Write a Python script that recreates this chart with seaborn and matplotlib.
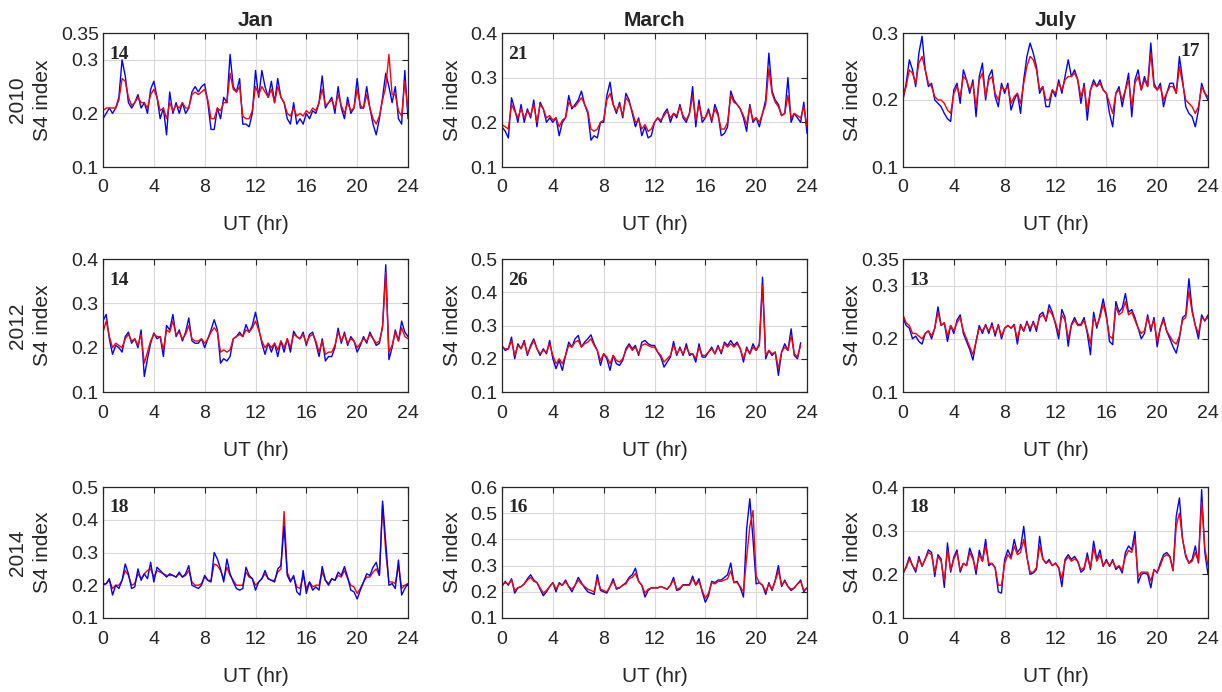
import numpy as np
import matplotlib
matplotlib.use("Agg")
import matplotlib.pyplot as plt
import seaborn as sns

# S4 index, one sample every 15 min from 0 UT (blue / red curves)
STEP = 0.25

months = ["Jan", "March", "July"]
years = ["2010", "2012", "2014"]
day_counts = [["14", "21", "17"], ["14", "26", "13"], ["18", "16", "18"]]
hour_ticks = [0, 4, 8, 12, 16, 20, 24]
s4_ticks = [[[0.1, 0.2, 0.3, 0.35], [0.1, 0.2, 0.3, 0.4], [0.1, 0.2, 0.3]],
            [[0.1, 0.2, 0.3, 0.4], [0.1, 0.2, 0.3, 0.4, 0.5], [0.1, 0.2, 0.3, 0.35]],
            [[0.1, 0.2, 0.3, 0.4, 0.5], [0.1, 0.2, 0.3, 0.4, 0.5, 0.6], [0.1, 0.2, 0.3, 0.4]]]

jan2010_blue = [0.19, 0.20, 0.21, 0.20, 0.21, 0.23, 0.30, 0.27,
                0.22, 0.21, 0.22, 0.235, 0.21, 0.22, 0.20, 0.245,
                0.26, 0.23, 0.19, 0.21, 0.16, 0.24, 0.20, 0.22,
                0.20, 0.22, 0.20, 0.21, 0.24, 0.25, 0.24, 0.25,
                0.255, 0.22, 0.17, 0.17, 0.21, 0.19, 0.23, 0.22,
                0.31, 0.25, 0.24, 0.265, 0.18, 0.18, 0.175, 0.20,
                0.28, 0.23, 0.28, 0.25, 0.23, 0.26, 0.22, 0.265,
                0.23, 0.22, 0.19, 0.18, 0.22, 0.18, 0.19, 0.18,
                0.20, 0.19, 0.205, 0.20, 0.22, 0.27, 0.21, 0.22,
                0.23, 0.20, 0.25, 0.21, 0.19, 0.23, 0.20, 0.21,
                0.265, 0.21, 0.21, 0.25, 0.21, 0.18, 0.16, 0.19,
                0.23, 0.275, 0.25, 0.22, 0.25, 0.19, 0.18, 0.28,
                0.19]
jan2010_red = [0.205, 0.21, 0.21, 0.21, 0.21, 0.225, 0.265, 0.26,
               0.23, 0.215, 0.22, 0.23, 0.22, 0.22, 0.21, 0.235,
               0.245, 0.23, 0.205, 0.21, 0.19, 0.22, 0.205, 0.215,
               0.21, 0.22, 0.21, 0.21, 0.235, 0.24, 0.235, 0.24,
               0.245, 0.225, 0.19, 0.19, 0.21, 0.205, 0.22, 0.22,
               0.275, 0.245, 0.24, 0.25, 0.195, 0.19, 0.19, 0.205,
               0.25, 0.235, 0.25, 0.24, 0.23, 0.245, 0.22, 0.25,
               0.23, 0.22, 0.20, 0.195, 0.21, 0.195, 0.20, 0.195,
               0.205, 0.20, 0.21, 0.205, 0.22, 0.245, 0.215, 0.22,
               0.225, 0.21, 0.235, 0.215, 0.20, 0.22, 0.205, 0.21,
               0.245, 0.215, 0.21, 0.235, 0.21, 0.19, 0.18, 0.195,
               0.225, 0.25, 0.31, 0.235, 0.235, 0.205, 0.195, 0.26,
               0.205]

mar2010_blue = [0.19, 0.18, 0.165, 0.255, 0.23, 0.20, 0.24, 0.20,
                0.23, 0.21, 0.25, 0.19, 0.245, 0.23, 0.20, 0.21,
                0.20, 0.21, 0.17, 0.20, 0.21, 0.26, 0.23, 0.24,
                0.25, 0.27, 0.24, 0.22, 0.16, 0.17, 0.165, 0.20,
                0.20, 0.26, 0.29, 0.24, 0.22, 0.245, 0.21, 0.265,
                0.25, 0.22, 0.19, 0.21, 0.17, 0.19, 0.165, 0.17,
                0.20, 0.21, 0.20, 0.22, 0.23, 0.20, 0.22, 0.21,
                0.24, 0.21, 0.20, 0.22, 0.28, 0.19, 0.25, 0.20,
                0.21, 0.23, 0.20, 0.24, 0.22, 0.17, 0.175, 0.19,
                0.27, 0.25, 0.24, 0.23, 0.21, 0.18, 0.24, 0.20,
                0.21, 0.19, 0.22, 0.25, 0.355, 0.27, 0.25, 0.24,
                0.215, 0.22, 0.30, 0.20, 0.22, 0.21, 0.20, 0.245,
                0.175]
mar2010_red = [0.195, 0.19, 0.185, 0.24, 0.225, 0.21, 0.23, 0.21,
               0.225, 0.215, 0.24, 0.20, 0.24, 0.23, 0.21, 0.215,
               0.205, 0.21, 0.19, 0.205, 0.21, 0.245, 0.235, 0.235,
               0.245, 0.255, 0.24, 0.225, 0.185, 0.18, 0.185, 0.20,
               0.205, 0.25, 0.265, 0.24, 0.225, 0.24, 0.215, 0.255,
               0.245, 0.225, 0.20, 0.205, 0.185, 0.195, 0.18, 0.185,
               0.20, 0.21, 0.205, 0.215, 0.225, 0.21, 0.22, 0.215,
               0.235, 0.215, 0.205, 0.22, 0.26, 0.205, 0.24, 0.21,
               0.21, 0.225, 0.205, 0.23, 0.215, 0.185, 0.185, 0.20,
               0.26, 0.245, 0.24, 0.23, 0.215, 0.195, 0.235, 0.205,
               0.21, 0.20, 0.22, 0.24, 0.32, 0.265, 0.245, 0.235,
               0.215, 0.22, 0.26, 0.21, 0.22, 0.215, 0.21, 0.235,
               0.19]

jul2010_blue = [0.20, 0.225, 0.26, 0.245, 0.22, 0.27, 0.295, 0.245,
                0.22, 0.225, 0.20, 0.195, 0.19, 0.18, 0.172, 0.168,
                0.215, 0.225, 0.195, 0.245, 0.23, 0.21, 0.23, 0.175,
                0.235, 0.255, 0.20, 0.235, 0.245, 0.205, 0.19, 0.225,
                0.21, 0.225, 0.185, 0.20, 0.21, 0.18, 0.23, 0.265,
                0.285, 0.27, 0.25, 0.21, 0.22, 0.19, 0.19, 0.215,
                0.205, 0.23, 0.21, 0.235, 0.26, 0.235, 0.245, 0.23,
                0.195, 0.225, 0.17, 0.215, 0.23, 0.22, 0.23, 0.215,
                0.21, 0.18, 0.16, 0.21, 0.22, 0.19, 0.215, 0.24,
                0.175, 0.23, 0.245, 0.215, 0.235, 0.22, 0.285, 0.225,
                0.215, 0.225, 0.19, 0.21, 0.225, 0.225, 0.21, 0.265,
                0.23, 0.19, 0.18, 0.175, 0.16, 0.185, 0.225, 0.21,
                0.20]
jul2010_red = [0.205, 0.22, 0.245, 0.24, 0.225, 0.255, 0.265, 0.245,
               0.225, 0.22, 0.205, 0.20, 0.20, 0.195, 0.185, 0.18,
               0.21, 0.22, 0.205, 0.235, 0.23, 0.215, 0.225, 0.19,
               0.23, 0.24, 0.205, 0.23, 0.235, 0.21, 0.20, 0.22,
               0.215, 0.22, 0.195, 0.205, 0.21, 0.195, 0.225, 0.25,
               0.265, 0.26, 0.245, 0.215, 0.22, 0.20, 0.20, 0.215,
               0.21, 0.225, 0.215, 0.23, 0.235, 0.235, 0.24, 0.23,
               0.205, 0.22, 0.185, 0.215, 0.225, 0.22, 0.225, 0.215,
               0.21, 0.195, 0.18, 0.21, 0.215, 0.20, 0.215, 0.23,
               0.19, 0.225, 0.235, 0.215, 0.23, 0.22, 0.27, 0.22,
               0.215, 0.22, 0.20, 0.21, 0.22, 0.22, 0.21, 0.25,
               0.225, 0.20, 0.195, 0.19, 0.18, 0.19, 0.22, 0.21,
               0.205]

jan2012_blue = [0.26, 0.275, 0.22, 0.185, 0.205, 0.20, 0.19, 0.225,
                0.235, 0.21, 0.22, 0.20, 0.24, 0.135, 0.175, 0.21,
                0.233, 0.22, 0.225, 0.18, 0.25, 0.24, 0.275, 0.225,
                0.24, 0.215, 0.235, 0.267, 0.215, 0.21, 0.21, 0.22,
                0.20, 0.22, 0.24, 0.263, 0.24, 0.165, 0.175, 0.17,
                0.18, 0.22, 0.225, 0.235, 0.225, 0.252, 0.235, 0.25,
                0.28, 0.245, 0.21, 0.185, 0.21, 0.19, 0.21, 0.18,
                0.215, 0.19, 0.22, 0.19, 0.237, 0.225, 0.22, 0.235,
                0.205, 0.23, 0.235, 0.21, 0.18, 0.22, 0.17, 0.18,
                0.18, 0.20, 0.244, 0.21, 0.235, 0.205, 0.225, 0.215,
                0.19, 0.205, 0.225, 0.21, 0.235, 0.22, 0.205, 0.21,
                0.25, 0.387, 0.173, 0.20, 0.24, 0.215, 0.26, 0.235,
                0.225]
jan2012_red = [0.235, 0.26, 0.225, 0.20, 0.21, 0.205, 0.20, 0.22,
               0.23, 0.215, 0.22, 0.205, 0.23, 0.165, 0.19, 0.215,
               0.23, 0.225, 0.225, 0.195, 0.24, 0.235, 0.26, 0.23,
               0.235, 0.22, 0.23, 0.25, 0.22, 0.215, 0.215, 0.22,
               0.21, 0.22, 0.235, 0.245, 0.235, 0.19, 0.195, 0.19,
               0.195, 0.22, 0.225, 0.23, 0.225, 0.24, 0.235, 0.245,
               0.26, 0.24, 0.215, 0.20, 0.21, 0.20, 0.21, 0.195,
               0.215, 0.20, 0.22, 0.20, 0.23, 0.225, 0.22, 0.23,
               0.21, 0.225, 0.23, 0.215, 0.19, 0.215, 0.185, 0.19,
               0.19, 0.205, 0.235, 0.215, 0.23, 0.21, 0.22, 0.215,
               0.20, 0.21, 0.22, 0.215, 0.23, 0.22, 0.21, 0.215,
               0.245, 0.37, 0.19, 0.205, 0.235, 0.215, 0.245, 0.225,
               0.22]

mar2012_blue = [0.24, 0.225, 0.23, 0.265, 0.20, 0.245, 0.23, 0.255,
                0.21, 0.24, 0.26, 0.23, 0.21, 0.23, 0.215, 0.255,
                0.20, 0.17, 0.195, 0.165, 0.21, 0.25, 0.235, 0.26,
                0.27, 0.235, 0.25, 0.26, 0.272, 0.245, 0.225, 0.18,
                0.215, 0.20, 0.165, 0.21, 0.185, 0.18, 0.195, 0.23,
                0.245, 0.23, 0.24, 0.21, 0.25, 0.255, 0.245, 0.24,
                0.24, 0.22, 0.205, 0.175, 0.19, 0.205, 0.252, 0.21,
                0.235, 0.21, 0.245, 0.21, 0.215, 0.19, 0.245, 0.205,
                0.205, 0.22, 0.235, 0.215, 0.24, 0.215, 0.25, 0.24,
                0.255, 0.24, 0.25, 0.23, 0.19, 0.235, 0.215, 0.245,
                0.225, 0.245, 0.445, 0.20, 0.225, 0.21, 0.22, 0.15,
                0.22, 0.245, 0.225, 0.29, 0.21, 0.20, 0.248]
mar2012_red = [0.235, 0.23, 0.23, 0.255, 0.21, 0.24, 0.23, 0.25,
               0.215, 0.235, 0.255, 0.23, 0.215, 0.225, 0.22, 0.245,
               0.21, 0.185, 0.20, 0.185, 0.21, 0.24, 0.235, 0.25,
               0.255, 0.235, 0.245, 0.25, 0.26, 0.24, 0.225, 0.195,
               0.215, 0.205, 0.185, 0.21, 0.195, 0.19, 0.20, 0.225,
               0.24, 0.225, 0.235, 0.215, 0.24, 0.245, 0.24, 0.235,
               0.235, 0.22, 0.21, 0.19, 0.20, 0.21, 0.24, 0.215,
               0.23, 0.215, 0.235, 0.215, 0.215, 0.20, 0.235, 0.21,
               0.21, 0.22, 0.23, 0.215, 0.235, 0.22, 0.245, 0.235,
               0.245, 0.235, 0.245, 0.23, 0.20, 0.23, 0.215, 0.235,
               0.225, 0.24, 0.42, 0.21, 0.225, 0.215, 0.22, 0.17,
               0.22, 0.235, 0.225, 0.27, 0.215, 0.205, 0.24]

jul2012_blue = [0.24, 0.225, 0.22, 0.20, 0.205, 0.195, 0.19, 0.21,
                0.215, 0.20, 0.22, 0.26, 0.225, 0.23, 0.195, 0.225,
                0.21, 0.235, 0.245, 0.21, 0.195, 0.18, 0.16, 0.195,
                0.225, 0.21, 0.227, 0.21, 0.23, 0.205, 0.227, 0.20,
                0.22, 0.225, 0.22, 0.227, 0.19, 0.227, 0.214, 0.233,
                0.214, 0.233, 0.214, 0.245, 0.25, 0.233, 0.264, 0.25,
                0.227, 0.20, 0.255, 0.24, 0.186, 0.227, 0.24, 0.227,
                0.227, 0.24, 0.21, 0.17, 0.25, 0.22, 0.245, 0.275,
                0.245, 0.195, 0.189, 0.27, 0.25, 0.258, 0.285, 0.25,
                0.255, 0.24, 0.22, 0.20, 0.21, 0.245, 0.214, 0.24,
                0.185, 0.22, 0.24, 0.214, 0.20, 0.185, 0.173, 0.20,
                0.24, 0.245, 0.313, 0.255, 0.225, 0.20, 0.245, 0.233,
                0.245]
jul2012_red = [0.245, 0.23, 0.225, 0.21, 0.21, 0.205, 0.20, 0.21,
               0.215, 0.205, 0.22, 0.25, 0.225, 0.23, 0.205, 0.225,
               0.215, 0.23, 0.24, 0.215, 0.20, 0.185, 0.17, 0.195,
               0.22, 0.215, 0.225, 0.215, 0.225, 0.21, 0.225, 0.205,
               0.22, 0.225, 0.22, 0.225, 0.20, 0.225, 0.215, 0.23,
               0.22, 0.23, 0.22, 0.24, 0.245, 0.235, 0.255, 0.245,
               0.23, 0.21, 0.245, 0.235, 0.20, 0.225, 0.235, 0.225,
               0.225, 0.235, 0.215, 0.19, 0.24, 0.225, 0.24, 0.265,
               0.24, 0.205, 0.20, 0.26, 0.245, 0.25, 0.27, 0.245,
               0.25, 0.235, 0.22, 0.21, 0.215, 0.24, 0.22, 0.235,
               0.195, 0.22, 0.235, 0.215, 0.205, 0.195, 0.19, 0.205,
               0.235, 0.24, 0.29, 0.25, 0.225, 0.21, 0.24, 0.235,
               0.24]

jan2014_blue = [0.20, 0.205, 0.22, 0.17, 0.20, 0.19, 0.215, 0.265,
                0.235, 0.19, 0.195, 0.25, 0.215, 0.235, 0.22, 0.27,
                0.21, 0.255, 0.245, 0.235, 0.225, 0.235, 0.23, 0.225,
                0.24, 0.225, 0.235, 0.26, 0.20, 0.195, 0.19, 0.20,
                0.23, 0.215, 0.21, 0.30, 0.28, 0.25, 0.21, 0.28,
                0.235, 0.21, 0.19, 0.185, 0.19, 0.255, 0.23, 0.22,
                0.185, 0.21, 0.22, 0.245, 0.22, 0.215, 0.21, 0.25,
                0.26, 0.38, 0.23, 0.21, 0.23, 0.18, 0.17, 0.245,
                0.175, 0.21, 0.185, 0.195, 0.185, 0.257, 0.215, 0.20,
                0.22, 0.215, 0.24, 0.23, 0.257, 0.225, 0.185, 0.18,
                0.158, 0.185, 0.21, 0.235, 0.23, 0.255, 0.27, 0.23,
                0.457, 0.33, 0.20, 0.205, 0.19, 0.277, 0.17, 0.19,
                0.205]
jan2014_red = [0.205, 0.205, 0.215, 0.19, 0.20, 0.20, 0.215, 0.245,
               0.23, 0.20, 0.205, 0.235, 0.22, 0.235, 0.245, 0.25,
               0.225, 0.245, 0.24, 0.235, 0.23, 0.23, 0.23, 0.225,
               0.235, 0.225, 0.23, 0.245, 0.21, 0.20, 0.20, 0.205,
               0.225, 0.215, 0.215, 0.265, 0.26, 0.245, 0.22, 0.255,
               0.23, 0.215, 0.20, 0.20, 0.20, 0.24, 0.225, 0.22,
               0.20, 0.21, 0.22, 0.235, 0.22, 0.215, 0.215, 0.24,
               0.25, 0.425, 0.24, 0.215, 0.225, 0.195, 0.19, 0.23,
               0.19, 0.21, 0.195, 0.20, 0.20, 0.24, 0.215, 0.205,
               0.22, 0.215, 0.23, 0.225, 0.245, 0.22, 0.20, 0.195,
               0.175, 0.19, 0.21, 0.225, 0.225, 0.24, 0.25, 0.23,
               0.445, 0.30, 0.21, 0.21, 0.205, 0.26, 0.19, 0.20,
               0.205]

mar2014_blue = [0.22, 0.24, 0.225, 0.25, 0.195, 0.215, 0.22, 0.23,
                0.25, 0.265, 0.245, 0.235, 0.21, 0.185, 0.20, 0.22,
                0.235, 0.20, 0.235, 0.225, 0.245, 0.22, 0.20, 0.225,
                0.255, 0.235, 0.215, 0.20, 0.195, 0.19, 0.265, 0.205,
                0.20, 0.195, 0.22, 0.25, 0.21, 0.215, 0.225, 0.235,
                0.255, 0.265, 0.29, 0.24, 0.225, 0.18, 0.205, 0.215,
                0.215, 0.215, 0.22, 0.215, 0.21, 0.225, 0.255, 0.205,
                0.21, 0.227, 0.227, 0.227, 0.26, 0.227, 0.25, 0.20,
                0.16, 0.185, 0.24, 0.235, 0.245, 0.245, 0.255, 0.265,
                0.31, 0.235, 0.24, 0.215, 0.18, 0.44, 0.555, 0.40,
                0.23, 0.235, 0.225, 0.19, 0.235, 0.205, 0.245, 0.30,
                0.22, 0.245, 0.22, 0.205, 0.215, 0.23, 0.245, 0.20,
                0.215]
mar2014_red = [0.225, 0.235, 0.23, 0.245, 0.205, 0.215, 0.22, 0.23,
               0.245, 0.255, 0.24, 0.235, 0.215, 0.195, 0.205, 0.22,
               0.235, 0.21, 0.23, 0.225, 0.24, 0.22, 0.21, 0.225,
               0.245, 0.23, 0.22, 0.21, 0.205, 0.20, 0.25, 0.21,
               0.205, 0.20, 0.22, 0.24, 0.215, 0.215, 0.225, 0.23,
               0.25, 0.255, 0.27, 0.24, 0.225, 0.195, 0.21, 0.215,
               0.215, 0.215, 0.22, 0.215, 0.21, 0.225, 0.245, 0.21,
               0.215, 0.225, 0.225, 0.225, 0.25, 0.225, 0.24, 0.205,
               0.175, 0.195, 0.235, 0.23, 0.24, 0.24, 0.245, 0.25,
               0.28, 0.235, 0.235, 0.22, 0.20, 0.33, 0.45, 0.51,
               0.26, 0.235, 0.225, 0.20, 0.23, 0.21, 0.24, 0.28,
               0.225, 0.24, 0.22, 0.21, 0.215, 0.23, 0.24, 0.205,
               0.215]

jul2014_blue = [0.20, 0.218, 0.24, 0.22, 0.205, 0.241, 0.218, 0.235,
                0.256, 0.25, 0.195, 0.245, 0.235, 0.17, 0.272, 0.205,
                0.24, 0.256, 0.205, 0.225, 0.22, 0.26, 0.24, 0.20,
                0.255, 0.23, 0.28, 0.22, 0.225, 0.215, 0.16, 0.157,
                0.234, 0.256, 0.24, 0.28, 0.25, 0.26, 0.31, 0.24,
                0.20, 0.203, 0.211, 0.287, 0.236, 0.226, 0.234, 0.22,
                0.226, 0.215, 0.172, 0.234, 0.245, 0.234, 0.241, 0.23,
                0.205, 0.211, 0.249, 0.211, 0.276, 0.234, 0.256, 0.218,
                0.234, 0.218, 0.234, 0.211, 0.218, 0.203, 0.25, 0.265,
                0.256, 0.298, 0.18, 0.20, 0.203, 0.20, 0.169, 0.211,
                0.203, 0.226, 0.245, 0.25, 0.241, 0.208, 0.333, 0.375,
                0.28, 0.24, 0.226, 0.234, 0.265, 0.226, 0.394, 0.25,
                0.20]
jul2014_red = [0.205, 0.215, 0.235, 0.22, 0.21, 0.235, 0.22, 0.235,
               0.25, 0.245, 0.205, 0.24, 0.23, 0.185, 0.255, 0.21,
               0.235, 0.25, 0.21, 0.225, 0.22, 0.25, 0.235, 0.21,
               0.245, 0.23, 0.265, 0.225, 0.225, 0.215, 0.175, 0.175,
               0.225, 0.245, 0.235, 0.265, 0.245, 0.25, 0.28, 0.24,
               0.205, 0.205, 0.215, 0.265, 0.235, 0.225, 0.23, 0.22,
               0.225, 0.215, 0.19, 0.23, 0.24, 0.23, 0.235, 0.23,
               0.21, 0.215, 0.24, 0.215, 0.26, 0.23, 0.245, 0.22,
               0.23, 0.22, 0.23, 0.215, 0.22, 0.21, 0.24, 0.255,
               0.25, 0.28, 0.195, 0.205, 0.205, 0.205, 0.185, 0.21,
               0.205, 0.22, 0.24, 0.245, 0.24, 0.21, 0.31, 0.34,
               0.28, 0.245, 0.225, 0.23, 0.25, 0.23, 0.365, 0.26,
               0.22]

series = [[(jan2010_blue, jan2010_red), (mar2010_blue, mar2010_red), (jul2010_blue, jul2010_red)],
          [(jan2012_blue, jan2012_red), (mar2012_blue, mar2012_red), (jul2012_blue, jul2012_red)],
          [(jan2014_blue, jan2014_red), (mar2014_blue, mar2014_red), (jul2014_blue, jul2014_red)]]

sns.set_style("white")
plt.rcParams['font.family'] = ['Liberation Sans', 'DejaVu Sans']

W, H = 1222, 692
fig = plt.figure(figsize=(W / 100, H / 100), dpi=100)

col_left = [103, 502, 903]
col_w = 305
row_top = [33, 259, 487]
row_bot = [167, 392, 618]
ylab_x = [-0.197, -0.161, -0.164]
dark = '#262626'

for r in range(3):
    for c in range(3):
        ax = fig.add_axes([col_left[c] / W, 1 - row_bot[r] / H,
                           col_w / W, (row_bot[r] - row_top[r]) / H])
        blue, red = series[r][c]
        tb = np.arange(len(blue)) * STEP
        tr = np.arange(len(red)) * STEP
        if r == 2 and c == 0:
            sns.lineplot(x=tr, y=red, color='#ff0000', lw=1.0, ax=ax)
            sns.lineplot(x=tb, y=blue, color='#0000ff', lw=1.0, ax=ax)
        else:
            sns.lineplot(x=tb, y=blue, color='#0000ff', lw=1.0, ax=ax)
            sns.lineplot(x=tr, y=red, color='#ff0000', lw=1.0, ax=ax)

        ticks = s4_ticks[r][c]
        ax.set_xlim(0, 24)
        ax.set_ylim(ticks[0], ticks[-1])
        ax.set_xticks(hour_ticks)
        ax.set_yticks(ticks)
        ax.set_yticklabels([f"{v:g}" for v in ticks])
        ax.grid(True, color='#d9d9d9', lw=0.8)
        ax.set_axisbelow(True)
        ax.tick_params(direction='in', length=4, width=0.8, colors=dark,
                       labelsize=14, top=True, right=True)
        ax.tick_params(axis='x', pad=9)
        ax.tick_params(axis='y', pad=3)
        for sp in ax.spines.values():
            sp.set_color(dark)
            sp.set_linewidth(0.9)

        ax.set_xlabel('UT (hr)', fontsize=15, color=dark)
        ax.xaxis.set_label_coords(0.5, -58 / (row_bot[r] - row_top[r]))
        ax.xaxis.label.set_verticalalignment('center')
        ax.set_ylabel('S4 index', fontsize=15, color=dark)
        ax.yaxis.set_label_coords(ylab_x[c], 0.5)
        ax.yaxis.label.set_verticalalignment('center')

        if r == 0:
            ax.set_title(months[c], fontsize=15, fontweight='bold', pad=5)
        if c == 0:
            ax.text(-0.28, 0.5, years[r], rotation=90, fontsize=15, color=dark,
                    ha='center', va='center', transform=ax.transAxes)

        if r == 0 and c == 2:
            ax.text(0.975, 0.86, day_counts[r][c], ha='right', va='center',
                    fontsize=14, fontweight='bold', transform=ax.transAxes,
                    family=['Liberation Serif', 'DejaVu Serif'])
        else:
            ax.text(0.02, 0.84, day_counts[r][c], ha='left', va='center',
                    fontsize=14, fontweight='bold', transform=ax.transAxes,
                    family=['Liberation Serif', 'DejaVu Serif'])

fig.savefig('out.png', dpi=100)
